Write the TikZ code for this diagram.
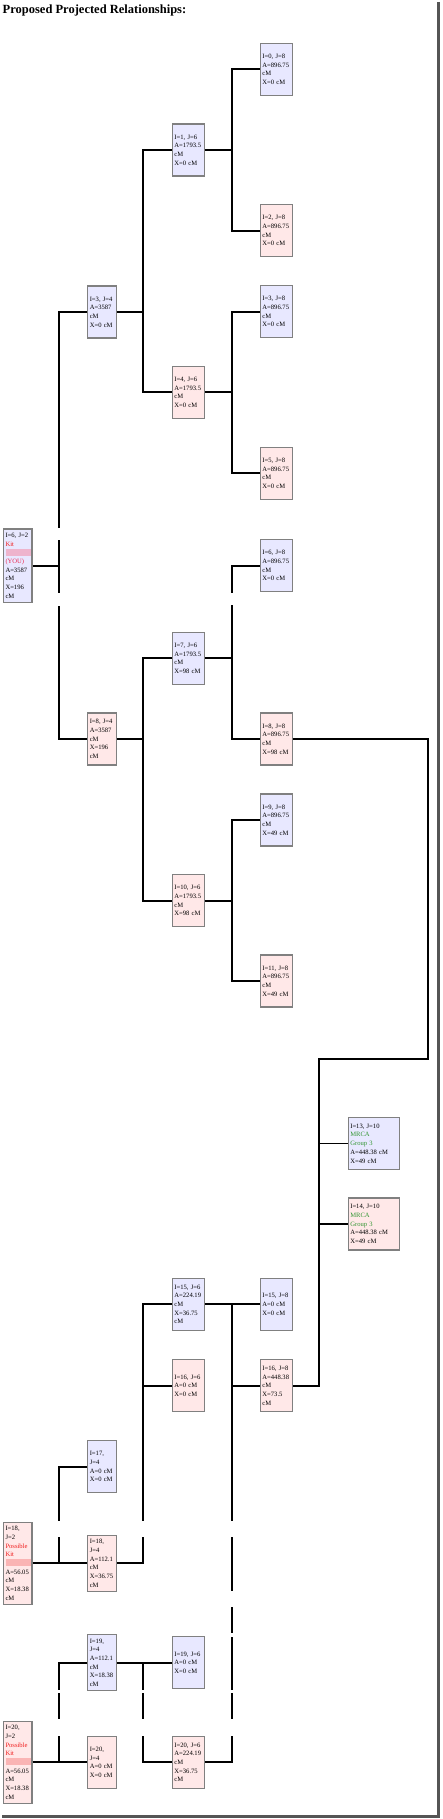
\documentclass[tikz,border=0pt]{standalone}
\usepackage{fontspec}
\setmainfont{Liberation Serif}
\definecolor{boxblue}{RGB}{232,232,255}
\definecolor{boxpink}{RGB}{255,232,232}
\definecolor{boxgray}{RGB}{128,128,128}
\definecolor{kitred}{RGB}{240,30,30}
\definecolor{youred}{RGB}{232,40,80}
\definecolor{mrcagreen}{RGB}{50,150,50}
\definecolor{barblue}{RGB}{238,180,205}
\definecolor{barpink}{RGB}{250,180,180}
\definecolor{shadowgray}{RGB}{85,85,85}
\tikzset{
  kbox/.style={draw=boxgray, line width=1.3pt, rectangle, inner xsep=2pt, inner ysep=4pt,
    align=left, minimum height=52pt, font=\fontsize{6.6}{8.7}\selectfont},
  kblue/.style={kbox, fill=boxblue},
  kpink/.style={kbox, fill=boxpink},
  wnarrow/.style={text width=24.4pt},
  wmid/.style={text width=27.7pt},
  wwide/.style={text width=47pt},
  conn/.style={line width=1.8pt, black},
  gapfill/.style={fill=white, draw=none}
}
\newcommand{\kitbar}[1]{\textcolor{#1}{\rule[-1pt]{25pt}{7pt}}}
\begin{document}
\begin{tikzpicture}[x=1pt, y=-1pt]
\useasboundingbox (0,0) rectangle (442,1819);
\fill[white] (0,0) rectangle (442,1819);

% frame shadow
\draw[line width=3pt, shadowgray] (438.5,2) -- (438.5,1816) -- (2,1816);

\node[anchor=base west, inner sep=0pt, font=\fontsize{12.5}{15}\selectfont\bfseries] (title) at (2.5,13.3) {Proposed Projected Relationships:};

% column 0
\node[kblue, wnarrow] (n6_2) at (17.7,565.7) {I=6, J=2\\\textcolor{kitred}{Kit}\\\kitbar{barblue}\\\textcolor{youred}{(YOU)}\\A=3587\\cM\\X=196\\cM};
\node[kpink, wnarrow] (n18_2) at (17.7,1563.3) {I=18,\\J=2\\\textcolor{kitred}{Possible}\\\textcolor{kitred}{Kit}\\\kitbar{barpink}\\A=56.05\\cM\\X=18.38\\cM};
\node[kpink, wnarrow] (n20_2) at (17.7,1762.3) {I=20,\\J=2\\\textcolor{kitred}{Possible}\\\textcolor{kitred}{Kit}\\\kitbar{barpink}\\A=56.05\\cM\\X=18.38\\cM};

% column 1
\node[kblue, wnarrow] (n3_4) at (102,312) {I=3, J=4\\A=3587\\cM\\X=0 cM};
\node[kpink, wnarrow] (n8_4) at (102,739) {I=8, J=4\\A=3587\\cM\\X=196\\cM};
\node[kblue, wnarrow] (n17_4) at (102,1466.7) {I=17,\\J=4\\A=0 cM\\X=0 cM};
\node[kpink, wnarrow] (n18_4) at (102,1563.3) {I=18,\\J=4\\A=112.1\\cM\\X=36.75\\cM};
\node[kblue, wnarrow] (n19_4) at (102,1662.7) {I=19,\\J=4\\A=112.1\\cM\\X=18.38\\cM};
\node[kpink, wnarrow] (n20_4) at (102,1762.3) {I=20,\\J=4\\A=0 cM\\X=0 cM};

% column 2
\node[kblue, wmid] (n1_6) at (188.3,150) {I=1, J=6\\A=1793.5\\cM\\X=0 cM};
\node[kpink, wmid] (n4_6) at (188.3,392.3) {I=4, J=6\\A=1793.5\\cM\\X=0 cM};
\node[kblue, wmid] (n7_6) at (188.3,658.3) {I=7, J=6\\A=1793.5\\cM\\X=98 cM};
\node[kpink, wmid] (n10_6) at (188.3,900.7) {I=10, J=6\\A=1793.5\\cM\\X=98 cM};
\node[kblue, wmid] (n15_6) at (188.3,1304.3) {I=15, J=6\\A=224.19\\cM\\X=36.75\\cM};
\node[kpink, wmid] (n16_6) at (188.3,1385.7) {I=16, J=6\\A=0 cM\\X=0 cM};
\node[kblue, wmid] (n19_6) at (188.3,1662.7) {I=19, J=6\\A=0 cM\\X=0 cM};
\node[kpink, wmid] (n20_6) at (188.3,1762.3) {I=20, J=6\\A=224.19\\cM\\X=36.75\\cM};

% column 3
\node[kblue, wmid] (n0_8) at (276.3,69.3) {I=0, J=8\\A=896.75\\cM\\X=0 cM};
\node[kpink, wmid] (n2_8) at (276.3,230.7) {I=2, J=8\\A=896.75\\cM\\X=0 cM};
\node[kblue, wmid] (n3_8) at (276.3,311.7) {I=3, J=8\\A=896.75\\cM\\X=0 cM};
\node[kpink, wmid] (n5_8) at (276.3,473.3) {I=5, J=8\\A=896.75\\cM\\X=0 cM};
\node[kblue, wmid] (n6_8) at (276.3,565.7) {I=6, J=8\\A=896.75\\cM\\X=0 cM};
\node[kpink, wmid] (n8_8) at (276.3,739) {I=8, J=8\\A=896.75\\cM\\X=98 cM};
\node[kblue, wmid] (n9_8) at (276.3,820) {I=9, J=8\\A=896.75\\cM\\X=49 cM};
\node[kpink, wmid] (n11_8) at (276.3,981) {I=11, J=8\\A=896.75\\cM\\X=49 cM};
\node[kblue, wmid] (n15_8) at (276.3,1304.3) {I=15, J=8\\A=0 cM\\X=0 cM};
\node[kpink, wmid] (n16_8) at (276.3,1385.7) {I=16, J=8\\A=448.38\\cM\\X=73.5\\cM};

% column 4
\node[kblue, wwide] (n13_10) at (373.8,1143.5) {I=13, J=10\\\textcolor{mrcagreen}{MRCA}\\\textcolor{mrcagreen}{Group 3}\\A=448.38 cM\\X=49 cM};
\node[kpink, wwide] (n14_10) at (373.8,1224) {I=14, J=10\\\textcolor{mrcagreen}{MRCA}\\\textcolor{mrcagreen}{Group 3}\\A=448.38 cM\\X=49 cM};

% junction points
\coordinate (a1) at (59.3,565.7);
\coordinate (b1) at (143.3,312);
\coordinate (c1) at (231.7,150);
\coordinate (c2) at (231.7,392.3);
\coordinate (b2) at (143.3,739);
\coordinate (c3) at (231.7,658.3);
\coordinate (c4) at (231.7,900.7);
\coordinate (r1) at (427.7,1059);
\coordinate (r2) at (319.3,1059);
\coordinate (d1) at (231.7,1304.3);
\coordinate (e1) at (143.3,1304.3);
\coordinate (f2) at (59.3,1563.3);
\coordinate (g2) at (59.3,1762.3);
\coordinate (h1) at (143.3,1662.7);

% upper tree
\draw[conn] (n3_4.west) -| (a1) |- (n8_4.west);
\draw[conn] (n6_2.east) -- (a1);
\draw[conn] (n1_6.west) -| (b1) |- (n4_6.west);
\draw[conn] (n3_4.east) -- (b1);
\draw[conn] (n0_8.west) -| (c1) |- (n2_8.west);
\draw[conn] (n1_6.east) -- (c1);
\draw[conn] (n3_8.west) -| (c2) |- (n5_8.west);
\draw[conn] (n4_6.east) -- (c2);
\draw[conn] (n7_6.west) -| (b2) |- (n10_6.west);
\draw[conn] (n8_4.east) -- (b2);
\draw[conn] (n6_8.west) -| (c3) |- (n8_8.west);
\draw[conn] (n7_6.east) -- (c3);
\draw[conn] (n9_8.west) -| (c4) |- (n11_8.west);
\draw[conn] (n10_6.east) -- (c4);

% long right connector
\draw[conn] (n8_8.east) -| (r1) -- (r2) |- (n16_8.east);
\draw[conn] (n13_10.west) -- (n13_10.west -| r2);
\draw[conn] (n14_10.west) -- (n14_10.west -| r2);

% lower tree
\draw[conn] (n15_6.east) -- (n15_8.west);
\draw[conn] (d1) |- (n16_8.west);
\draw[conn] (d1) |- (n20_6.east);
\draw[conn] (n15_6.west) -- (e1) |- (n18_4.east);
\draw[conn] (e1) |- (n16_6.west);
\draw[conn] (n17_4.west) -| (f2);
\draw[conn] (n18_2.east) -- (n18_4.west);
\draw[conn] (n19_4.west) -| (g2);
\draw[conn] (n20_2.east) -- (n20_4.west);
\draw[conn] (n19_4.east) -- (n19_6.west);
\draw[conn] (h1) |- (n20_6.west);

% gaps in the vertical lines
\fill[gapfill] (57.3,527.7) rectangle (61.3,540);
\fill[gapfill] (57.3,593.3) rectangle (61.3,605.7);
\fill[gapfill] (229.7,592.7) rectangle (233.7,605);
\foreach \gx in {59.3,143.3,231.7} {
  \fill[gapfill] (\gx-2,1520.7) rectangle (\gx+2,1537.3);
}
\fill[gapfill] (229.7,1590.7) rectangle (233.7,1607.3);
\fill[gapfill] (229.7,1632.7) rectangle (233.7,1636.7);
\foreach \gx in {59.3,143.3,231.7} {
  \fill[gapfill] (\gx-2,1689.6) rectangle (\gx+2,1693.3);
  \fill[gapfill] (\gx-2,1719.3) rectangle (\gx+2,1736);
}
\end{tikzpicture}
\end{document}
